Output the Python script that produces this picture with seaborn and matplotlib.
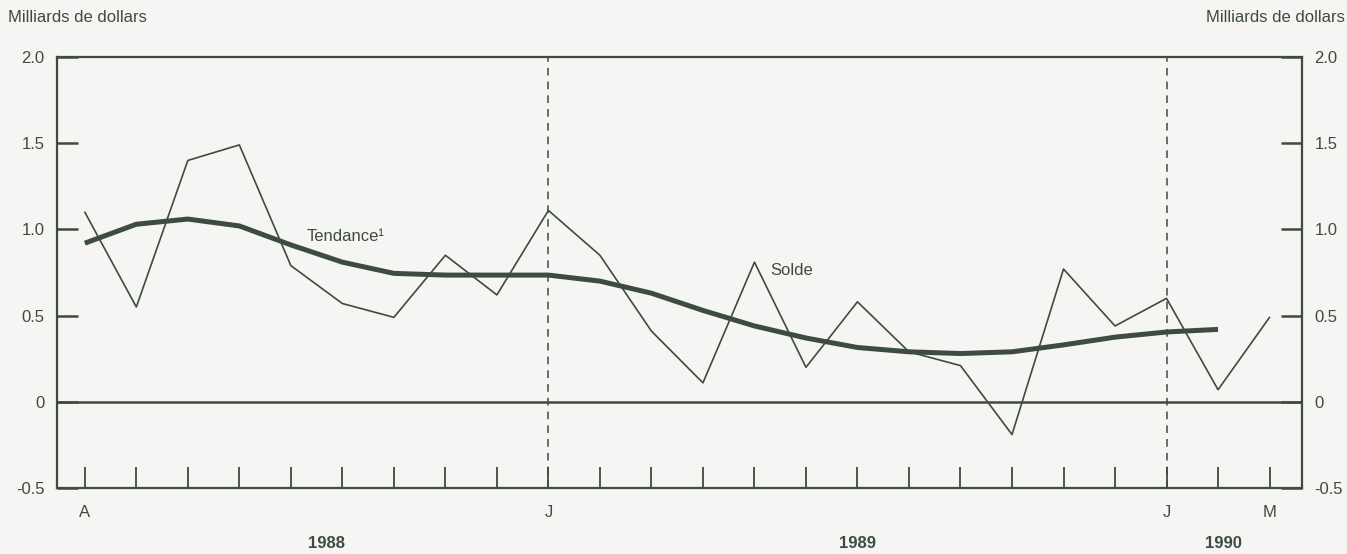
import numpy as np
import pandas as pd
import matplotlib.pyplot as plt
import seaborn as sns

# months from avril 1988 (A) to mars 1990 (M)
months = list(range(24))
month_labels = ["A", "", "", "", "", "", "", "", "", "J", "", "", "",
                "", "", "", "", "", "", "", "", "J", "", "M"]
solde = [1.10, 0.55, 1.40, 1.49, 0.79, 0.57, 0.49, 0.85, 0.62, 1.11,
         0.85, 0.41, 0.11, 0.81, 0.20, 0.58, 0.29, 0.21, -0.19, 0.77,
         0.44, 0.60, 0.07, 0.49]
# trend stops at fevrier 1990
tendance = [0.92, 1.03, 1.06, 1.02, 0.91, 0.81, 0.745, 0.735, 0.735, 0.735,
            0.70, 0.63, 0.53, 0.44, 0.37, 0.315, 0.29, 0.28, 0.29, 0.33,
            0.375, 0.405, 0.42]
yticks = [-0.5, 0, 0.5, 1.0, 1.5, 2.0]
ytick_labels = ["-0.5", "0", "0.5", "1.0", "1.5", "2.0"]
years = ["1988", "1989", "1990"]
year_pos = [4.7, 15.0, 22.1]

sns.set_style("white")
plt.rcParams['font.family'] = ['Liberation Sans', 'DejaVu Sans']

ink = "#3e4b3f"
bg = "#f5f5f3"

df_solde = pd.DataFrame({"mois": months, "val": solde})
df_tend = pd.DataFrame({"mois": months[:len(tendance)], "val": tendance})

fig = plt.figure(figsize=(13.47, 5.54), dpi=100, facecolor=bg)
ax = fig.add_axes([57 / 1347, 1 - 488 / 554, (1302 - 57) / 1347, (488 - 57) / 554])
ax.set_facecolor(bg)

sns.lineplot(data=df_solde, x="mois", y="val", ax=ax, color=ink, linewidth=1.2)
sns.lineplot(data=df_tend, x="mois", y="val", ax=ax, color=ink, linewidth=3.6,
             solid_capstyle="butt")

ax.axhline(0, color=ink, linewidth=1.8)
for m in [9, 21]:
    ax.axvline(m, color=ink, linewidth=1.1, linestyle=(0, (5, 4)))

ax.set_xlim(-0.54, 23.63)
ax.set_ylim(-0.5, 2.0)

ax.set_xticks(months)
ax.set_xticklabels(month_labels, fontsize=12, color=ink)
ax.set_yticks(yticks)
ax.set_yticklabels(ytick_labels, fontsize=12, color=ink)
ax.tick_params(axis="x", direction="in", length=15, width=1.3, color=ink, pad=12,
               bottom=True, top=False)
ax.tick_params(axis="y", direction="in", length=15, width=1.8, color=ink,
               left=True, right=True, labelleft=True, labelright=True, pad=9)
ax.set_xlabel("")
ax.set_ylabel("")

for s in ax.spines.values():
    s.set_visible(True)
    s.set_color(ink)
    s.set_linewidth(1.6)

# year labels under the month letters
for yr, pos in zip(years, year_pos):
    ax.text(pos, -0.82, yr, ha="center", va="center", fontsize=12,
            fontweight="bold", color=ink, clip_on=False)

ax.text(4.3, 0.96, "Tendance¹", fontsize=12, color=ink, va="center", ha="left")
ax.text(13.3, 0.76, "Solde", fontsize=12, color=ink, va="center", ha="left")

fig.text(8 / 1347, 1 - 18 / 554, "Milliards de dollars", fontsize=12, color=ink,
         ha="left", va="center")
fig.text(1345 / 1347, 1 - 18 / 554, "Milliards de dollars", fontsize=12, color=ink,
         ha="right", va="center")

fig.savefig("out.png", dpi=100, facecolor=bg)
